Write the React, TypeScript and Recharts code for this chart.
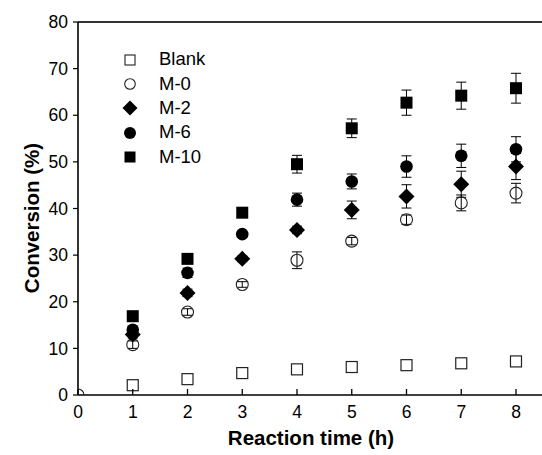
import {
  ErrorBar,
  Label,
  ReferenceLine,
  Scatter,
  ScatterChart,
  XAxis,
  YAxis,
} from "recharts";

const hours = [1, 2, 3, 4, 5, 6, 7, 8];

const blank = [2.1, 3.4, 4.7, 5.5, 6.0, 6.4, 6.8, 7.2];
const m0 = [10.8, 17.8, 23.7, 28.9, 33.0, 37.6, 41.2, 43.3];
const m2 = [13.0, 21.9, 29.2, 35.4, 39.7, 42.6, 45.2, 49.0];
const m6 = [14.0, 26.2, 34.5, 41.9, 45.8, 49.0, 51.3, 52.7];
const m10 = [16.9, 29.2, 39.1, 49.5, 57.2, 62.7, 64.2, 65.8];

const m0Err = [0.8, 0.7, 0.6, 1.8, 0.8, 1.0, 1.7, 2.1];
const m2Err = [0.8, 0.8, 0.6, 0.8, 1.9, 2.5, 2.8, 2.8];
const m6Err = [0.6, 1.0, 0.6, 1.4, 1.6, 2.3, 2.5, 2.7];
const m10Err = [0.5, 0.5, 0.5, 1.9, 2.0, 2.7, 2.9, 3.2];

const yTicks = [0, 10, 20, 30, 40, 50, 60, 70, 80];
const xTicks = [0, 1, 2, 3, 4, 5, 6, 7, 8];

const FONT = "'Liberation Sans', Arial, sans-serif";

type Kind = "squareOpen" | "circleOpen" | "diamond" | "circle" | "square";

const toRows = (vals: number[], errs?: number[]) =>
  hours.map((h, i) => ({ x: h, y: vals[i], err: errs ? errs[i] : 0 }));

const series: { name: string; kind: Kind; rows: { x: number; y: number; err: number }[]; hasErr: boolean }[] = [
  { name: "Blank", kind: "squareOpen", rows: toRows(blank), hasErr: false },
  { name: "M-0", kind: "circleOpen", rows: [{ x: 0, y: 0, err: 0 }, ...toRows(m0, m0Err)], hasErr: true },
  { name: "M-2", kind: "diamond", rows: toRows(m2, m2Err), hasErr: true },
  { name: "M-6", kind: "circle", rows: toRows(m6, m6Err), hasErr: true },
  { name: "M-10", kind: "square", rows: toRows(m10, m10Err), hasErr: true },
];

function Marker({ cx, cy, kind, atOrigin }: { cx: number; cy: number; kind: Kind; atOrigin?: boolean }) {
  if (cx == null || cy == null) return null;
  if (atOrigin) {
    // only the quarter inside the plot area shows at the origin
    return <path d={`M ${cx + 6} ${cy} A 6 6 0 0 0 ${cx} ${cy - 6}`} fill="none" stroke="#222" strokeWidth={1.1} />;
  }
  switch (kind) {
    case "squareOpen":
      return <rect x={cx - 5.5} y={cy - 5.5} width={11} height={11} fill="#fff" stroke="#222" strokeWidth={1.2} />;
    case "circleOpen":
      return <circle cx={cx} cy={cy} r={6} fill="none" stroke="#222" strokeWidth={1.1} />;
    case "diamond":
      return <polygon points={`${cx},${cy - 8} ${cx + 8},${cy} ${cx},${cy + 8} ${cx - 8},${cy}`} fill="#000" />;
    case "circle":
      return <circle cx={cx} cy={cy} r={6.3} fill="#000" />;
    default:
      return <rect x={cx - 6} y={cy - 6} width={12} height={12} fill="#000" />;
  }
}

function LegendSymbol({ kind }: { kind: Kind }) {
  const c = 8;
  switch (kind) {
    case "squareOpen":
      return <rect x={c - 5} y={c - 5} width={10} height={10} fill="#fff" stroke="#222" strokeWidth={1.1} />;
    case "circleOpen":
      return <circle cx={c} cy={c} r={5.3} fill="#fff" stroke="#222" strokeWidth={1.1} />;
    case "diamond":
      return <polygon points={`${c},${c - 7.5} ${c + 7.5},${c} ${c},${c + 7.5} ${c - 7.5},${c}`} fill="#000" />;
    case "circle":
      return <circle cx={c} cy={c} r={6} fill="#000" />;
    default:
      return <rect x={c - 5.5} y={c - 5.5} width={11} height={11} fill="#000" />;
  }
}

const LegendBox = () => (
  <div
    style={{
      position: "absolute",
      left: 122,
      top: 47.5,
      fontFamily: FONT,
      fontSize: 18.5,
      color: "#000",
      lineHeight: 1,
    }}
  >
    {series.map((s) => (
      <div key={s.name} style={{ display: "flex", alignItems: "center", height: 24.3 }}>
        <svg width={16} height={16} style={{ overflow: "visible" }}>
          <LegendSymbol kind={s.kind} />
        </svg>
        <span style={{ marginLeft: 21 }}>{s.name}</span>
      </div>
    ))}
  </div>
);

const XTick = (props: any) => {
  const { x, y, payload } = props;
  return (
    <g>
      <line x1={x} x2={x} y1={y} y2={y - 6} stroke="#000" strokeWidth={1.3} />
      <text x={x} y={y + 23} textAnchor="middle" fontSize={17.5} fontFamily={FONT} fill="#000">
        {payload.value}
      </text>
    </g>
  );
};

export default function App() {
  return (
    <div style={{ position: "absolute", left: 0, top: 0, width: 542, height: 455, background: "#fff" }}>
      <ScatterChart width={542} height={455} margin={{ top: 22, right: 0, bottom: 30, left: 0 }}>
        <XAxis
          type="number"
          dataKey="x"
          domain={[0, 8.475]}
          ticks={xTicks}
          allowDataOverflow
          tickSize={0}
          tickMargin={0}
          tick={<XTick />}
          height={30}
          axisLine={{ stroke: "#000", strokeWidth: 1.6 }}
          tickLine={false}
        >
          <Label
            content={() => (
              <text x={311} y={445} textAnchor="middle" fontSize={20.5} fontWeight="bold" fontFamily={FONT} fill="#000">
                Reaction time (h)
              </text>
            )}
          />
        </XAxis>
        <YAxis
          type="number"
          dataKey="y"
          domain={[0, 80]}
          ticks={yTicks}
          allowDataOverflow
          width={78}
          tickSize={5}
          tickMargin={5}
          tick={{ fontSize: 17.5, fontFamily: FONT, fill: "#000" }}
          axisLine={{ stroke: "#000", strokeWidth: 1.6 }}
          tickLine={{ stroke: "#000", strokeWidth: 1.2 }}
        >
          <Label
            content={() => (
              <text
                x={39}
                y={218}
                transform="rotate(-90 39 218)"
                textAnchor="middle"
                fontSize={20.5}
                fontWeight="bold"
                fontFamily={FONT}
                fill="#000"
              >
                Conversion (%)
              </text>
            )}
          />
        </YAxis>
        <ReferenceLine y={80} stroke="#333" strokeWidth={2.2} />
        {series.map((s) => (
          <Scatter
            key={s.name}
            name={s.name}
            data={s.rows}
            isAnimationActive={false}
            shape={(p: any) => (
              <Marker cx={p.cx} cy={p.cy} kind={s.kind} atOrigin={p.payload && p.payload.x === 0} />
            )}
          >
            {s.hasErr && <ErrorBar dataKey="err" direction="y" width={5} stroke="#000" strokeWidth={1} />}
          </Scatter>
        ))}
      </ScatterChart>
      <LegendBox />
    </div>
  );
}
